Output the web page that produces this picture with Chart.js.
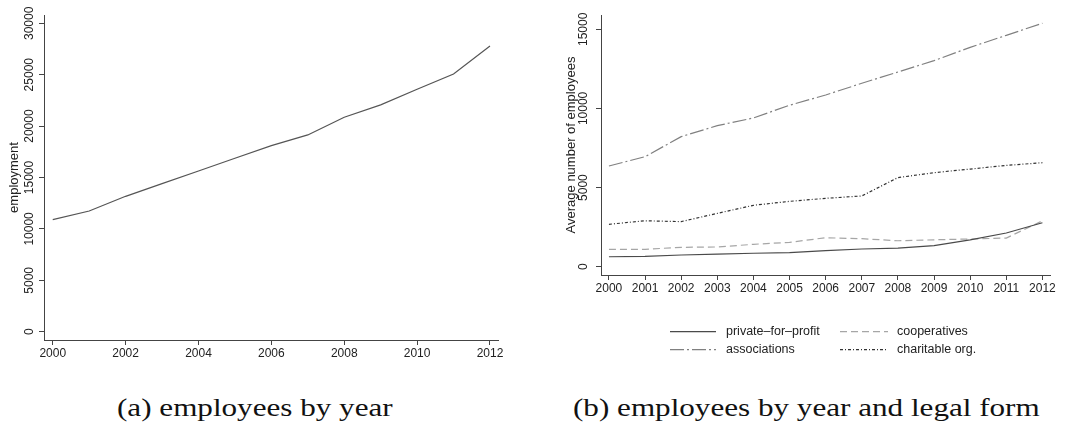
<!DOCTYPE html>
<html>
<head>
<meta charset="utf-8">
<script src="https://cdn.jsdelivr.net/npm/chart.js@4.4.1/dist/chart.umd.min.js"></script>
<style>
  html, body { margin: 0; padding: 0; background: #fff; }
  body { width: 1066px; height: 426px; position: relative; overflow: hidden; }
  .painel { position: absolute; top: 0; width: 533px; height: 370px; }
  #painelA { left: 0; }
  #painelB { left: 533px; }
  .subtitulo {
    position: absolute; top: 395px;
    font-family: 'Liberation Serif', serif; font-size: 25px; line-height: 25px;
    white-space: nowrap; color: #111;
    transform: scaleX(1.245); transform-origin: 0 0;
  }
</style>
</head>
<body>
<div class="painel" id="painelA"><canvas id="graficoAno"></canvas></div>
<div class="painel" id="painelB"><canvas id="graficoForma"></canvas></div>
<div class="subtitulo" style="left:117px">(a) employees by year</div>
<div class="subtitulo" style="left:573px">(b) employees by year and legal form</div>

<script>
// Dados
const anos = [2000, 2001, 2002, 2003, 2004, 2005, 2006, 2007, 2008, 2009, 2010, 2011, 2012];
const empregoTotal = [10900, 11740, 13170, 14400, 15630, 16870, 18100, 19140, 20860, 22060, 23580, 25070, 27800];

const privateForProfit = [630, 650, 740, 800, 850, 890, 1010, 1120, 1180, 1330, 1690, 2130, 2780];
const cooperatives = [1100, 1100, 1225, 1245, 1415, 1540, 1830, 1770, 1640, 1700, 1750, 1810, 2900];
const associations = [6360, 6950, 8220, 8910, 9400, 10200, 10850, 11590, 12300, 13020, 13860, 14620, 15380];
const charitable = [2680, 2900, 2850, 3370, 3880, 4130, 4320, 4470, 5630, 5940, 6170, 6400, 6570];

const nomesForma = ['private–for–profit', 'cooperatives', 'associations', 'charitable org.'];

const ticksAnoA = [2000, 2002, 2004, 2006, 2008, 2010, 2012];
const ticksAnoB = anos;
const ticksEmpregoA = [0, 5000, 10000, 15000, 20000, 25000, 30000];
const ticksEmpregoB = [0, 5000, 10000, 15000];

Chart.defaults.font.family = "'Liberation Sans', Arial, sans-serif";
Chart.defaults.font.size = 12;
Chart.defaults.color = '#222';

const pontos = serie => anos.map((a, i) => ({ x: a, y: serie[i] }));

// rótulos do eixo y girados (estilo Stata)
const rotuloY = {
  id: 'rotuloY',
  afterDraw(chart, args, opts) {
    const esc = chart.scales.y;
    const ctx = chart.ctx;
    ctx.save();
    ctx.font = "12px 'Liberation Sans', Arial, sans-serif";
    ctx.fillStyle = '#222';
    ctx.textAlign = 'center';
    ctx.textBaseline = 'middle';
    esc.ticks.forEach(t => {
      ctx.save();
      ctx.translate(opts.x, esc.getPixelForValue(t.value));
      ctx.rotate(-Math.PI / 2);
      ctx.fillText(String(t.value), 0, 0);
      ctx.restore();
    });
    ctx.restore();
  }
};

// legenda em grade 2x2 abaixo do gráfico
const legendaGrade = {
  id: 'legendaGrade',
  afterDraw(chart, args, opts) {
    if (!opts.ativa) return;
    const ctx = chart.ctx;
    ctx.save();
    ctx.font = "12.5px 'Liberation Sans', Arial, sans-serif";
    ctx.fillStyle = '#222';
    ctx.textBaseline = 'middle';
    chart.data.datasets.forEach((ds, i) => {
      const col = opts.colunas[i % 2];
      const y = opts.linhas[Math.floor(i / 2)];
      ctx.beginPath();
      ctx.setLineDash(ds.borderDash || []);
      ctx.strokeStyle = ds.borderColor;
      ctx.lineWidth = ds.borderWidth;
      ctx.moveTo(col.x0, y);
      ctx.lineTo(col.x1, y);
      ctx.stroke();
      ctx.setLineDash([]);
      ctx.fillText(ds.label, col.texto, y);
    });
    ctx.restore();
  }
};

function eixos({ xMin, xMax, yMin, yMax, xTicks, yTicks, titulo, larguraY, padTitulo }) {
  const grade = { drawOnChartArea: false, drawTicks: true, tickLength: 5, color: '#444', lineWidth: 1 };
  return {
    x: {
      type: 'linear', min: xMin, max: xMax,
      afterBuildTicks: s => { s.ticks = xTicks.map(v => ({ value: v })); },
      afterFit: s => { s.height = 30; },
      grid: grade,
      border: { color: '#444', width: 1 },
      ticks: { padding: 1, maxRotation: 0, autoSkip: false, callback: v => String(v) }
    },
    y: {
      type: 'linear', min: yMin, max: yMax,
      afterBuildTicks: s => { s.ticks = yTicks.map(v => ({ value: v })); },
      afterFit: s => { s.width = larguraY; },
      grid: grade,
      border: { color: '#444', width: 1 },
      ticks: { display: false },
      title: { display: true, text: titulo, font: { size: 13 }, color: '#222', padding: { top: padTitulo, bottom: 0 } }
    }
  };
}

// (a) emprego por ano
new Chart(document.querySelector('#graficoAno'), {
  type: 'line',
  data: {
    datasets: [{
      label: 'employment',
      data: pontos(empregoTotal),
      borderColor: '#555',
      borderWidth: 1.2,
      pointRadius: 0,
      tension: 0
    }]
  },
  options: {
    responsive: true,
    maintainAspectRatio: false,
    animation: false,
    layout: { padding: { top: 15, right: 35, bottom: 0, left: 0 } },
    scales: eixos({
      xMin: 1999.76, xMax: 2012.22, yMin: -807, yMax: 30807,
      xTicks: ticksAnoA, yTicks: ticksEmpregoA,
      titulo: 'employment', larguraY: 44, padTitulo: 7
    }),
    plugins: {
      legend: { display: false },
      tooltip: { enabled: false },
      rotuloY: { x: 30 },
      legendaGrade: { ativa: false }
    }
  },
  plugins: [rotuloY, legendaGrade]
});

// (b) emprego por ano e forma jurídica
const estilos = [
  { cor: '#4a4a4a', traco: [] },
  { cor: '#a6a6a6', traco: [7, 4] },
  { cor: '#808080', traco: [14, 3, 2, 3] },
  { cor: '#333333', traco: [3, 2, 1, 2] }
];
const series = [privateForProfit, cooperatives, associations, charitable];

new Chart(document.querySelector('#graficoForma'), {
  type: 'line',
  data: {
    datasets: series.map((s, i) => ({
      label: nomesForma[i],
      data: pontos(s),
      borderColor: estilos[i].cor,
      borderDash: estilos[i].traco,
      borderWidth: 1.2,
      pointRadius: 0,
      tension: 0
    }))
  },
  options: {
    responsive: true,
    maintainAspectRatio: false,
    animation: false,
    layout: { padding: { top: 15, right: 16, bottom: 65, left: 0 } },
    scales: eixos({
      xMin: 1999.78, xMax: 2012.21, yMin: -524, yMax: 15903,
      xTicks: ticksAnoB, yTicks: ticksEmpregoB,
      titulo: 'Average number of employees', larguraY: 68, padTitulo: 31
    }),
    plugins: {
      legend: { display: false },
      tooltip: { enabled: false },
      rotuloY: { x: 50.7 },
      legendaGrade: {
        ativa: true,
        colunas: [{ x0: 137, x1: 183, texto: 193 }, { x0: 307, x1: 355, texto: 364 }],
        linhas: [331.7, 349.7]
      }
    }
  },
  plugins: [rotuloY, legendaGrade]
});
</script>
</body>
</html>
